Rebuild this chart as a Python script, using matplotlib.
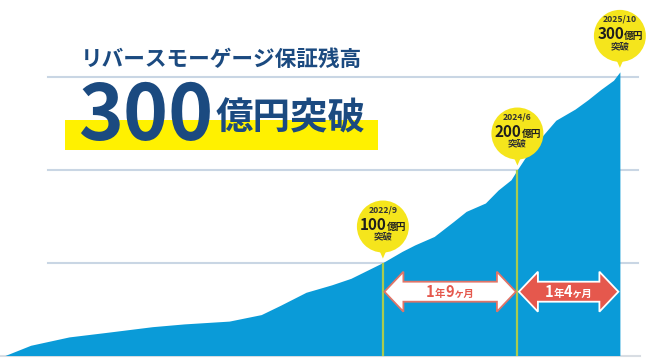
import matplotlib
matplotlib.use('Agg')
import numpy as np
import matplotlib.pyplot as plt
import matplotlib.transforms as mtransforms
from matplotlib.patches import Circle, Polygon, Rectangle
from matplotlib.offsetbox import TextArea, HPacker, AnnotationBbox

plt.rcParams['font.family'] = ['Noto Sans CJK JP', 'DejaVu Sans']

# months counted from 2017/10, balance in 億円
months = [0, 4, 10, 16, 23, 28, 35, 40, 43, 47, 51, 54, 59, 62, 64, 67, 70, 72,
          75, 77, 79, 80, 82, 84, 86, 89, 91, 93, 95, 96]
balance = [0, 11, 20, 25, 31, 34, 37, 44, 54, 68, 76, 83, 100, 112, 119, 128, 144, 155,
           164, 178, 189, 200, 221, 237, 253, 265, 275, 286, 296, 305]

grid_levels = [100, 200, 300]
milestone_months = [59, 80, 96]
milestone_dates = ['2022/9', '2024/6', '2025/10']
milestone_labels = ['100', '200', '300']
span_labels = [['1', '年', '9', 'ヶ月'], ['1', '年', '4', 'ヶ月']]

NAVY = '#1b4a80'
BLUE = '#0a9bd8'
YELLOW = '#fff100'
PIN = '#f5e51c'
SALMON = '#e5584d'
LIME = '#a9cb4f'

fig = plt.figure(figsize=(6.5, 3.61), dpi=100)
ax = fig.add_axes([0, 0, 1, 1])
ax.set_xlim(-0.78, 100.7)
ax.set_ylim(-5.9, 382.3)
ax.axis('off')

for lv in grid_levels:
    ax.axhline(lv, xmin=48/650, xmax=638/650, color='#c9d6e4', lw=1.5, zorder=1)
ax.axhline(0, xmin=0, xmax=640/650, color='#d8dde3', lw=1.5, zorder=1)

ax.fill_between(months, balance, color=BLUE, lw=0, zorder=2)

anchors = np.interp(milestone_months, months, balance)

# vertical milestone lines
for m, v in zip(milestone_months[:2], anchors[:2]):
    ax.plot([m, m], [0, v], color=LIME, lw=1.6, zorder=3, solid_capstyle='butt')


def pixel_trans(m, v):
    return mtransforms.Affine2D() + mtransforms.ScaledTranslation(m, v, ax.transData)


def packed(parts, xy, dy_px, xycoords='data'):
    boxes = [TextArea(t, textprops=dict(size=s, weight='bold', color=c)) for t, s, c in parts]
    pack = HPacker(children=boxes, align='baseline', pad=0, sep=0)
    ab = AnnotationBbox(pack, xy, xybox=(0, dy_px * 0.72), xycoords=xycoords,
                        boxcoords='offset points', frameon=False, pad=0,
                        box_alignment=(0.5, 0.5), zorder=6)
    ax.add_artist(ab)


# pins
for m, v, date, lab in zip(milestone_months, anchors, milestone_dates, milestone_labels):
    tr = pixel_trans(m, v)
    ax.add_patch(Polygon([(-7, 20), (7, 20), (0, 4)], closed=True, transform=tr,
                         color=PIN, lw=0, zorder=5))
    ax.add_patch(Circle((0, 36), 26, transform=tr, color=PIN, lw=0, zorder=5))
    ax.text(0, 53, date, transform=tr, ha='center', va='center', fontsize=6.2,
            weight='bold', color='#333333', zorder=6)
    ax.text(4, 33, lab, transform=tr, ha='right', va='baseline', fontsize=11,
            weight='bold', color='#1e1e1e', zorder=6)
    ax.text(4, 33, '億円', transform=tr, ha='left', va='baseline', fontsize=7,
            weight='bold', color='#1e1e1e', zorder=6)
    ax.text(0, 26, '突破', transform=tr, ha='center', va='center', fontsize=6.8,
            weight='bold', color='#333333', zorder=6)

# span arrows
blend = mtransforms.blended_transform_factory(ax.transData, ax.transAxes)
arrow_y = 1 - 291.7/361
styles = [('white', '#e07468', SALMON), (SALMON, 'white', 'white')]
for i, (fc, ec, tc) in enumerate(styles):
    m0, m1 = milestone_months[i], milestone_months[i + 1]
    x0, yc = blend.transform((m0, arrow_y))
    x1, _ = blend.transform((m1, arrow_y))
    x0 += 1.5
    x1 -= 1.5
    hl, hw, sw = 19, 20, 10
    pts = [(x0, yc), (x0 + hl, yc + hw), (x0 + hl, yc + sw), (x1 - hl, yc + sw),
           (x1 - hl, yc + hw), (x1, yc), (x1 - hl, yc - hw), (x1 - hl, yc - sw),
           (x0 + hl, yc - sw), (x0 + hl, yc - hw)]
    ax.add_patch(Polygon(pts, closed=True, transform=mtransforms.IdentityTransform(),
                         facecolor=fc, edgecolor=ec, lw=1.3, zorder=4))
    a, b, c, d = span_labels[i]
    packed([(a, 10.5, tc), (b, 7.5, tc), (c, 10.5, tc), (d, 7.5, tc)],
           ((m0 + m1) / 2, arrow_y), 0, xycoords=blend)

# headline
ax.add_patch(Rectangle((65/650, 1 - 150/361), (378 - 65)/650, 30/361,
                       transform=ax.transAxes, color=YELLOW, lw=0, zorder=3))
ax.text(81/650, 1 - 59/361, 'リバースモーゲージ保証残高', transform=ax.transAxes,
        ha='left', va='center', fontsize=15.6, weight='bold', color=NAVY, zorder=6)
ax.text(78/650, 1 - 140/361, '300', transform=ax.transAxes, ha='left', va='baseline',
        fontsize=55, weight='bold', color=NAVY, zorder=6)
ax.text(216/650, 1 - 129/361, '億円突破', transform=ax.transAxes, ha='left',
        va='baseline', fontsize=27, weight='bold', color=NAVY, zorder=6)

fig.savefig('out.png', dpi=100)
